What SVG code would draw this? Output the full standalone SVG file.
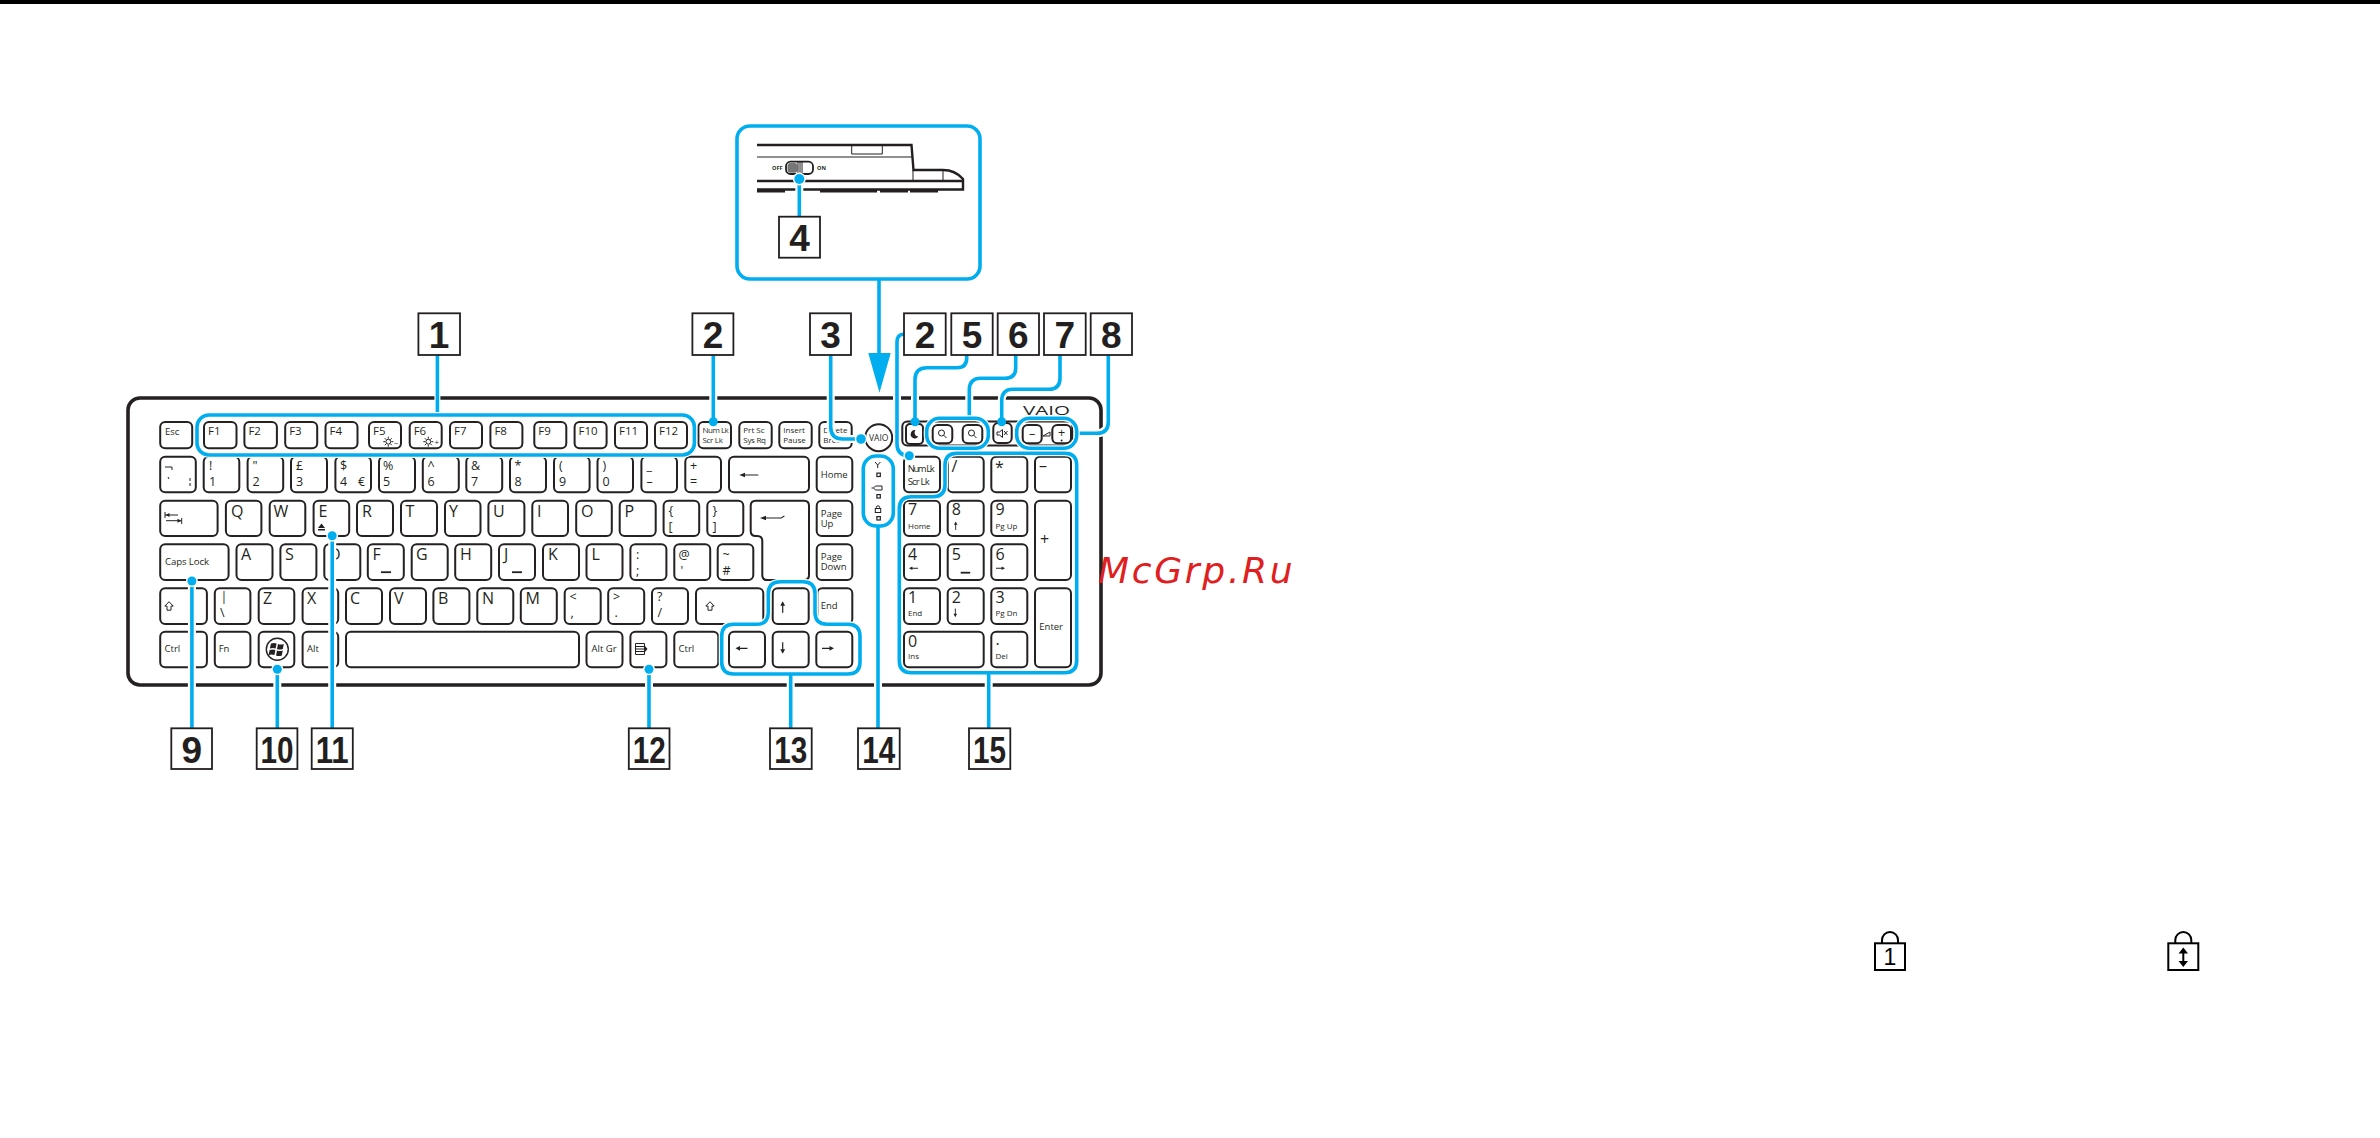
<svg xmlns="http://www.w3.org/2000/svg" xmlns:xlink="http://www.w3.org/1999/xlink" width="2380" height="1138" viewBox="0 0 2380 1138">
<style>
text{font-family:"Liberation Sans",Arial,sans-serif;fill:#231f20}
#keyboard{opacity:.99}
#keyboard text,#inset text{font-family:"Open Sans","Liberation Sans",sans-serif}
.k{fill:#fff;stroke:#231f20;stroke-width:2}
.o{fill:none;stroke:#231f20;stroke-width:1.9}
.thin{fill:none;stroke:#231f20;stroke-width:1}
.thick{fill:none;stroke:#231f20;stroke-width:2.4}
.ink{fill:#231f20}
.l{font-size:16px}
.s{font-size:12.5px}
.f{font-size:11.5px}
.t{font-size:9.5px}
.u{font-size:8px}
.h{fill:none;stroke:#fff;stroke-width:8}
.hg{fill:none;stroke:#fff;stroke-width:6}
.c{fill:none;stroke:#00aeef;stroke-width:3.6}
.d{fill:#00aeef}
.hd{fill:#fff}
.b{fill:#fff;stroke:#231f20;stroke-width:1.8}
.n{font-size:37px;font-weight:700;text-anchor:middle}
</style>
<defs>
<g id="shift"><path d="M0,0 L4.2,4.4 H2 V8.5 H-2 V4.4 H-4.2 Z" class="thin"/></g>
<g id="sun"><circle r="2.4" class="thin"/><path d="M-5,0H-3M3,0H5M0,-5V-3M0,3V5M-3.5,-3.5L-2,-2M3.5,-3.5L2,-2M-3.5,3.5L-2,2M3.5,3.5L2,2" class="thin"/></g>
<g id="up"><path d="M0,-5.5 L2.4,-1 H0.6 V6 H-0.6 V-1 H-2.4 Z" class="ink"/></g>
<g id="right"><path d="M6,0 L1.5,-2.4 V-0.6 H-6 V0.6 H1.5 V2.4 Z" class="ink"/></g>
<g id="glass"><circle cx="-1" cy="-1" r="3" class="thin"/><path d="M1.2,1.2L4,4" class="thin"/></g>
</defs>
<rect width="2380" height="1138" fill="#fff"/>
<rect width="2380" height="4" fill="#000"/>

<g id="keyboard">
<rect x="128" y="398" width="973" height="287" rx="12" fill="#fff" stroke="#231f20" stroke-width="3.6"/>
<text x="1023" y="415" font-size="13" textLength="47" lengthAdjust="spacingAndGlyphs">VAIO</text>
<g id="row-f">
<rect class="k" x="160.200" y="422" width="32" height="26.300" rx="5"/><text class="t" x="165" y="435">Esc</text>
<rect class="k" x="204" y="422" width="32.500" height="26.300" rx="5"/><text class="f" x="208" y="434.500">F1</text>
<rect class="k" x="244.400" y="422" width="32.500" height="26.300" rx="5"/><text class="f" x="248.400" y="434.500">F2</text>
<rect class="k" x="285.200" y="422" width="32" height="26.300" rx="5"/><text class="f" x="289.200" y="434.500">F3</text>
<rect class="k" x="325.500" y="422" width="32" height="26.300" rx="5"/><text class="f" x="329.500" y="434.500">F4</text>
<rect class="k" x="369" y="422" width="32" height="26.300" rx="5"/><text class="f" x="373" y="434.500">F5</text><use xlink:href="#sun" href="#sun" x="388.300" y="441.700"/><text class="u" x="394" y="444.500">–</text>
<rect class="k" x="409.700" y="422" width="32" height="26.300" rx="5"/><text class="f" x="413.700" y="434.500">F6</text><use xlink:href="#sun" href="#sun" x="428.300" y="441.700"/><text class="u" x="434.500" y="444.500">+</text>
<rect class="k" x="450" y="422" width="32" height="26.300" rx="5"/><text class="f" x="454" y="434.500">F7</text>
<rect class="k" x="490.400" y="422" width="32" height="26.300" rx="5"/><text class="f" x="494.400" y="434.500">F8</text>
<rect class="k" x="534.300" y="422" width="32" height="26.300" rx="5"/><text class="f" x="538.300" y="434.500">F9</text>
<rect class="k" x="574.600" y="422" width="32" height="26.300" rx="5"/><text class="f" x="578.600" y="434.500">F10</text>
<rect class="k" x="615" y="422" width="32" height="26.300" rx="5"/><text class="f" x="619" y="434.500">F11</text>
<rect class="k" x="655" y="422" width="32" height="26.300" rx="5"/><text class="f" x="659" y="434.500">F12</text>
<rect class="k" x="698.400" y="422" width="32.600" height="26.300" rx="5"/><text class="u" x="702.500" y="433" letter-spacing="-.5">Num Lk</text><text class="u" x="702.500" y="443.300" letter-spacing="-.3">Scr Lk</text>
<rect class="k" x="739.300" y="422" width="32.400" height="26.300" rx="5"/><text class="u" x="743.300" y="433.300">Prt Sc</text><text class="u" x="743.300" y="443.300" letter-spacing="-.3">Sys Rq</text>
<rect class="k" x="779.300" y="422" width="32.400" height="26.300" rx="5"/><text class="u" x="783.300" y="433.300">Insert</text><text class="u" x="783.300" y="443.300">Pause</text>
<rect class="k" x="819.300" y="422" width="32.400" height="26.300" rx="5"/><text class="u" x="823.300" y="433.300">Delete</text><text class="u" x="823.300" y="443.300">Break</text>
<circle class="k" cx="878.700" cy="437.700" r="13.500"/><text x="878.700" y="441" font-size="8.500" text-anchor="middle">VAIO</text>
</g>
<g id="row-media">
<rect class="k" x="902.300" y="421.500" width="170" height="24" rx="5"/>
<rect class="k" x="906" y="424" width="17" height="20" rx="4"/>
<path class="ink" d="M915.500,430 a4.200,4.200 0 1 0 2.800,6.600 a4,4 0 0 1 -2.800,-6.600Z"/>
<rect class="k" x="932.700" y="425" width="19.600" height="18.300" rx="5"/><use xlink:href="#glass" href="#glass" x="942.500" y="434"/>
<rect class="k" x="962.700" y="425" width="19.600" height="18.300" rx="5"/><use xlink:href="#glass" href="#glass" x="972.500" y="434"/>
<rect class="k" x="993.300" y="423" width="18.400" height="20" rx="5"/><path class="thin" d="M997,432h2.500l3,-2.500v8l-3,-2.500h-2.500zM1004,431l3.500,4M1007.500,431l-3.500,4"/>
<rect class="k" x="1022.700" y="425" width="19" height="18.300" rx="5"/><text class="s" x="1032.200" y="438" text-anchor="middle">–</text>
<path class="thin" d="M1043,436 L1050,432 V436 Z"/>
<rect class="k" x="1052.300" y="425" width="18.700" height="18.300" rx="5"/><text class="s" x="1061.600" y="437" text-anchor="middle">+</text><circle class="ink" cx="1061.600" cy="440.500" r="1"/>
</g>
<g id="row-1">
<rect class="k" x="160.200" y="456.700" width="35.600" height="35.600" rx="5"/><path class="thin" d="M165,467h7v3M168,477l1,2M190,478v3M190,483v3"/>
<rect class="k" x="203.700" y="456.700" width="35.600" height="35.600" rx="5"/><text class="s" x="209" y="470">!</text><text class="s" x="209" y="485.700">1</text>
<rect class="k" x="247.600" y="456.700" width="35.600" height="35.600" rx="5"/><text class="s" x="252.600" y="470">"</text><text class="s" x="252.600" y="485.700">2</text>
<rect class="k" x="291" y="456.700" width="36" height="35.600" rx="5"/><text class="s" x="296" y="470">£</text><text class="s" x="296" y="485.700">3</text>
<rect class="k" x="335.400" y="456.700" width="35.600" height="35.600" rx="5"/><text class="s" x="340" y="470">$</text><text class="s" x="340" y="485.700">4</text><text class="s" x="358" y="485.700">€</text>
<rect class="k" x="379" y="456.700" width="36" height="35.600" rx="5"/><text class="s" x="383" y="470">%</text><text class="s" x="383" y="485.700">5</text>
<rect class="k" x="422.800" y="456.700" width="36" height="35.600" rx="5"/><text class="s" x="427.500" y="470">^</text><text class="s" x="427.500" y="485.700">6</text>
<rect class="k" x="466.300" y="456.700" width="35.900" height="35.600" rx="5"/><text class="s" x="471" y="470">&amp;</text><text class="s" x="471" y="485.700">7</text>
<rect class="k" x="510" y="456.700" width="36" height="35.600" rx="5"/><text class="s" x="514.500" y="470">*</text><text class="s" x="514.500" y="485.700">8</text>
<rect class="k" x="554" y="456.700" width="35.600" height="35.600" rx="5"/><text class="s" x="559" y="470">(</text><text class="s" x="559" y="485.700">9</text>
<rect class="k" x="597.500" y="456.700" width="35.500" height="35.600" rx="5"/><text class="s" x="602.500" y="470">)</text><text class="s" x="602.500" y="485.700">0</text>
<rect class="k" x="641.400" y="456.700" width="35.600" height="35.600" rx="5"/><text class="s" x="646.500" y="470">_</text><text class="s" x="646.500" y="485.700">–</text>
<rect class="k" x="685.300" y="456.700" width="35.700" height="35.600" rx="5"/><text class="s" x="690" y="470">+</text><text class="s" x="690" y="485.700">=</text>
<rect class="k" x="729" y="456.700" width="80" height="35.600" rx="5"/><path class="ink" d="M739.300,475 L745,472.800 V474.500 H758.300 V475.500 H745 V477.200 Z"/>
<rect class="k" x="816.700" y="456.700" width="35.600" height="35.600" rx="5"/><text class="t" x="820.700" y="478">Home</text>
</g>
<g id="row-2">
<rect class="k" x="160.200" y="500.700" width="57.400" height="35.300" rx="5"/><path class="thin" d="M165,512v6M165,515h13M181.700,518v6M166,520.700h15"/><path class="ink" d="M165.500,515l4,-2v4zM181.500,520.700l-4,-2v4z"/>
<rect class="k" x="225.900" y="500.700" width="35.500" height="35.300" rx="5"/><text class="l" x="231" y="516.700">Q</text>
<rect class="k" x="269.700" y="500.700" width="35.600" height="35.300" rx="5"/><text class="l" x="273.500" y="516.700">W</text>
<rect class="k" x="313.600" y="500.700" width="35.600" height="35.300" rx="5"/><text class="l" x="318.500" y="516.700">E</text><path class="ink" d="M318,528l3.500,-4.500l3.500,4.500zM318,529h7v1.500h-7z"/>
<rect class="k" x="357" y="500.700" width="36" height="35.300" rx="5"/><text class="l" x="362" y="516.700">R</text>
<rect class="k" x="401" y="500.700" width="36" height="35.300" rx="5"/><text class="l" x="405.500" y="516.700">T</text>
<rect class="k" x="445" y="500.700" width="35.500" height="35.300" rx="5"/><text class="l" x="449" y="516.700">Y</text>
<rect class="k" x="488.400" y="500.700" width="36" height="35.300" rx="5"/><text class="l" x="493" y="516.700">U</text>
<rect class="k" x="532.300" y="500.700" width="35.700" height="35.300" rx="5"/><text class="l" x="537" y="516.700">I</text>
<rect class="k" x="576.200" y="500.700" width="35.600" height="35.300" rx="5"/><text class="l" x="581" y="516.700">O</text>
<rect class="k" x="619.700" y="500.700" width="36" height="35.300" rx="5"/><text class="l" x="624.500" y="516.700">P</text>
<rect class="k" x="663.600" y="500.700" width="35.600" height="35.300" rx="5"/><text class="s" x="668.500" y="515">{</text><text class="s" x="668.500" y="531">[</text>
<rect class="k" x="707.300" y="500.700" width="36" height="35.300" rx="5"/><text class="s" x="712.500" y="515">}</text><text class="s" x="712.500" y="531">]</text>
<path class="k" d="M755.700,500.700H804q5,0 5,5V575q0,5 -5,5H767.300q-5,0 -5,-5V541q0,-5 -5,-5H755.700q-5,0 -5,-5V505.700q0,-5 5,-5Z"/>
<path class="ink" d="M760,518 L766,515.800 V517.500 H781 L784,515.500 L784.800,516.300 L781.500,518.600 H766 V520.200 Z"/>
<rect class="k" x="816.700" y="500.700" width="35.600" height="35.300" rx="5"/><text class="t" x="820.700" y="516.700">Page</text><text class="t" x="820.700" y="526.700">Up</text>
</g>
<g id="row-3">
<rect class="k" x="160.200" y="544.300" width="68.400" height="35.700" rx="5"/><text x="165" y="565" font-size="9.600" textLength="44">Caps Lock</text>
<rect class="k" x="236.500" y="544.300" width="36" height="35.700" rx="5"/><text class="l" x="241" y="560">A</text>
<rect class="k" x="280.400" y="544.300" width="36" height="35.700" rx="5"/><text class="l" x="285" y="560">S</text>
<rect class="k" x="324.300" y="544.300" width="36" height="35.700" rx="5"/><text class="l" x="329" y="560">D</text>
<rect class="k" x="367.800" y="544.300" width="36" height="35.700" rx="5"/><text class="l" x="372.500" y="560">F</text><rect class="ink" x="381" y="571.300" width="10" height="1.800"/>
<rect class="k" x="411.700" y="544.300" width="36" height="35.700" rx="5"/><text class="l" x="416" y="560">G</text>
<rect class="k" x="455.200" y="544.300" width="36" height="35.700" rx="5"/><text class="l" x="460" y="560">H</text>
<rect class="k" x="499" y="544.300" width="36" height="35.700" rx="5"/><text class="l" x="504" y="560">J</text><rect class="ink" x="512" y="571.300" width="10" height="1.800"/>
<rect class="k" x="543" y="544.300" width="36" height="35.700" rx="5"/><text class="l" x="548" y="560">K</text>
<rect class="k" x="586.500" y="544.300" width="36" height="35.700" rx="5"/><text class="l" x="591.500" y="560">L</text>
<rect class="k" x="630.400" y="544.300" width="36" height="35.700" rx="5"/><text class="s" x="636" y="559">:</text><text class="s" x="636" y="575">;</text>
<rect class="k" x="674.300" y="544.300" width="35.900" height="35.700" rx="5"/><text class="s" x="678.500" y="559">@</text><text class="s" x="680.500" y="575">'</text>
<rect class="k" x="717.700" y="544.300" width="35.600" height="35.700" rx="5"/><text class="s" x="722.500" y="559">~</text><text class="s" x="722.500" y="575">#</text>
<rect class="k" x="816.700" y="544.300" width="35.600" height="35.700" rx="5"/><text class="t" x="820.700" y="560">Page</text><text class="t" x="820.700" y="570">Down</text>
</g>
<g id="row-4">
<rect class="k" x="160.200" y="588.300" width="46.700" height="35.700" rx="5"/><use xlink:href="#shift" href="#shift" x="169" y="601.700"/>
<rect class="k" x="214.800" y="588.300" width="35.600" height="35.700" rx="5"/><text class="s" x="220.500" y="601">|</text><text class="s" x="220" y="617">\</text>
<rect class="k" x="258.700" y="588.300" width="35.600" height="35.700" rx="5"/><text class="l" x="263" y="604">Z</text>
<rect class="k" x="302.600" y="588.300" width="35.600" height="35.700" rx="5"/><text class="l" x="307" y="604">X</text>
<rect class="k" x="346" y="588.300" width="36" height="35.700" rx="5"/><text class="l" x="350" y="604">C</text>
<rect class="k" x="390" y="588.300" width="36" height="35.700" rx="5"/><text class="l" x="394" y="604">V</text>
<rect class="k" x="433.400" y="588.300" width="36" height="35.700" rx="5"/><text class="l" x="438" y="604">B</text>
<rect class="k" x="477.300" y="588.300" width="36" height="35.700" rx="5"/><text class="l" x="482" y="604">N</text>
<rect class="k" x="520.800" y="588.300" width="36" height="35.700" rx="5"/><text class="l" x="525.500" y="604">M</text>
<rect class="k" x="564.700" y="588.300" width="36" height="35.700" rx="5"/><text class="s" x="569.500" y="601">&lt;</text><text class="s" x="570.500" y="617">,</text>
<rect class="k" x="608.200" y="588.300" width="36" height="35.700" rx="5"/><text class="s" x="613" y="601">&gt;</text><text class="s" x="614.500" y="617">.</text>
<rect class="k" x="652" y="588.300" width="36" height="35.700" rx="5"/><text class="s" x="657" y="601">?</text><text class="s" x="657.500" y="617">/</text>
<rect class="k" x="696" y="588.300" width="67.300" height="35.700" rx="5"/><use xlink:href="#shift" href="#shift" x="710" y="601.700"/>
<rect class="k" x="772.700" y="588.300" width="36" height="35.700" rx="5"/><use xlink:href="#up" href="#up" x="782.700" y="606.700"/>
<rect class="k" x="817.300" y="588.300" width="35" height="35.700" rx="5"/><text class="t" x="820.700" y="609">End</text>
</g>
<g id="row-5">
<rect class="k" x="160.200" y="631.700" width="46.700" height="35.600" rx="5"/><text class="t" x="164.600" y="652.300">Ctrl</text>
<rect class="k" x="214.800" y="631.700" width="35.600" height="35.600" rx="5"/><text class="t" x="218.700" y="652.300">Fn</text>
<rect class="k" x="258.700" y="631.700" width="35.600" height="35.600" rx="5"/><circle cx="277.300" cy="649.300" r="11" fill="#fff" stroke="#231f20" stroke-width="1.400"/><path class="ink" d="M271,643.500q3,-1 5.600,0l-1,5q-3,-1 -5.800,0zM278,644q3,1 5.800,0l-1,5q-3,1 -5.800,0zM269.600,650q3,-1 5.800,0l-1,5q-3,-1 -5.800,0zM277,650.500q3,1 5.800,0l-1,5q-3,1 -5.800,0z"/>
<rect class="k" x="302.600" y="631.700" width="35.600" height="35.600" rx="5"/><text class="t" x="307" y="652.300">Alt</text>
<rect class="k" x="346" y="631.700" width="233" height="35.600" rx="5"/>
<rect class="k" x="586.500" y="631.700" width="36" height="35.600" rx="5"/><text class="t" x="591.600" y="652.300" textLength="25">Alt Gr</text>
<rect class="k" x="630.400" y="631.700" width="36" height="35.600" rx="5"/><path class="thin" d="M635.500,643.500h9v11h-9zM635.500,646.500h9M635.500,649h9M635.500,651.500h9"/><path class="ink" d="M645,646l2.500,3l-2.500,3z"/>
<rect class="k" x="674.300" y="631.700" width="44" height="35.600" rx="5"/><text class="t" x="678.600" y="652.300">Ctrl</text>
<rect class="k" x="729" y="631.700" width="36" height="35.600" rx="5"/><use xlink:href="#right" href="#right" transform="translate(741.500 648.300) rotate(180)"/>
<rect class="k" x="772.700" y="631.700" width="36" height="35.600" rx="5"/><use xlink:href="#up" href="#up" transform="translate(782.700 648.300) rotate(180)"/>
<rect class="k" x="816.300" y="631.700" width="36" height="35.600" rx="5"/><use xlink:href="#right" href="#right" x="828" y="648.300"/>
</g>
<g id="numpad">
<rect class="k" x="904" y="456.700" width="36" height="35.600" rx="5"/><text class="t" x="907.700" y="471.700" textLength="27">Num Lk</text><text class="t" x="907.700" y="485" textLength="22">Scr Lk</text>
<rect class="k" x="947.700" y="456.700" width="36" height="35.600" rx="5"/><text class="l" x="951.500" y="472">/</text>
<rect class="k" x="991.300" y="456.700" width="36" height="35.600" rx="5"/><text class="l" x="995" y="473">*</text>
<rect class="k" x="1035" y="456.700" width="36" height="35.600" rx="5"/><text class="l" x="1039" y="471">–</text>
<rect class="k" x="904" y="500.700" width="36" height="35.300" rx="5"/><text class="l" x="908" y="515">7</text><text class="u" x="908" y="529">Home</text>
<rect class="k" x="947.700" y="500.700" width="36" height="35.300" rx="5"/><text class="l" x="951.700" y="515">8</text><use xlink:href="#up" href="#up" transform="translate(955.700 525.500) scale(.75)"/>
<rect class="k" x="991.300" y="500.700" width="36" height="35.300" rx="5"/><text class="l" x="995.500" y="515">9</text><text class="u" x="995.500" y="529">Pg Up</text>
<rect class="k" x="1035" y="500.700" width="36" height="79.300" rx="5"/><text class="l" x="1040" y="545">+</text>
<rect class="k" x="904" y="544.300" width="36" height="35.700" rx="5"/><text class="l" x="908" y="560">4</text><use xlink:href="#right" href="#right" transform="translate(913.500 568.300) rotate(180) scale(.75)"/>
<rect class="k" x="947.700" y="544.300" width="36" height="35.700" rx="5"/><text class="l" x="951.700" y="560">5</text><rect class="ink" x="960.700" y="571.800" width="9.500" height="1.800"/>
<rect class="k" x="991.300" y="544.300" width="36" height="35.700" rx="5"/><text class="l" x="995.500" y="560">6</text><use xlink:href="#right" href="#right" transform="translate(1000.500 568.300) scale(.75)"/>
<rect class="k" x="904" y="588.300" width="36" height="35.700" rx="5"/><text class="l" x="908" y="603.300">1</text><text class="u" x="908" y="615.700">End</text>
<rect class="k" x="947.700" y="588.300" width="36" height="35.700" rx="5"/><text class="l" x="951.700" y="603.300">2</text><use xlink:href="#up" href="#up" transform="translate(955.300 613) rotate(180) scale(.75)"/>
<rect class="k" x="991.300" y="588.300" width="36" height="35.700" rx="5"/><text class="l" x="995.500" y="603.300">3</text><text class="u" x="995.500" y="615.700">Pg Dn</text>
<rect class="k" x="1035" y="588.300" width="36" height="79" rx="5"/><text class="t" x="1039.300" y="630">Enter</text>
<rect class="k" x="904" y="631.700" width="79.700" height="35.600" rx="5"/><text class="l" x="908" y="646.700">0</text><text class="u" x="908" y="659.300">Ins</text>
<rect class="k" x="991.300" y="631.700" width="36" height="35.600" rx="5"/><text class="l" x="995.500" y="645">.</text><text class="u" x="995.500" y="659.300">Del</text>
</g>
<g id="leds">
<path class="thin" d="M875,462l2.700,3l2.700,-3M877.700,465v3"/><rect class="ink" x="876.300" y="472.500" width="4.600" height="4.600"/><rect fill="#fff" x="877.500" y="473.700" width="2.200" height="2.200"/>
<path class="thin" d="M873.500,488l2,-2h6.500v4h-6.500zM871.500,488h2"/><rect class="ink" x="876.300" y="494" width="4.600" height="4.600"/><rect fill="#fff" x="877.500" y="495.200" width="2.200" height="2.200"/>
<rect class="thin" x="875.300" y="508.500" width="5.400" height="4"/><path class="thin" d="M876.300,508.500v-1a1.700,1.700 0 0 1 3.400,0v1"/><rect class="ink" x="876.300" y="516" width="4.600" height="4.600"/><rect fill="#fff" x="877.500" y="517.200" width="2.200" height="2.200"/>
</g>
</g>

<g id="inset">
<rect class="c" x="737" y="126" width="243" height="153" rx="13" fill="#fff"/>
<path class="thick" d="M757,145H911.500L913.500,170H943Q955,170 963,179V189.500H757"/>
<path class="thin" d="M757,157H912M913,181V170M943,170V181M851.700,145V154H882.300V145"/>
<path d="M757,181H963" fill="none" stroke="#231f20" stroke-width="2.400"/>
<path d="M757,191H785M820,191H877M880,191H908M910,191H938" fill="none" stroke="#231f20" stroke-width="3"/>
<rect x="786" y="161.700" width="27" height="12.300" rx="4.500" fill="#fff" stroke="#231f20" stroke-width="1.800"/>
<rect x="787.500" y="163" width="10" height="9.800" rx="3" fill="#777"/>
<path class="thin" d="M798,162v12M800,162v12M802,162v12"/>
<text x="772" y="170.300" font-size="5.500" font-weight="700">OFF</text>
<text x="817" y="170.300" font-size="5.500" font-weight="700">ON</text>
</g>

<g id="connectors">
<path class="hg" d="M437.400,355V415"/><path class="c" d="M437.400,355V415"/>
<rect class="hg" x="197" y="415" width="497.400" height="40" rx="12"/><rect class="c" x="197" y="415" width="497.400" height="40" rx="12"/>
<path class="h" d="M713.300,355V421.700"/><path class="c" d="M713.300,355V421.700"/><circle class="d" cx="713.300" cy="421.700" r="4.500"/>
<path class="h" d="M830.700,355V427Q830.700,439 842.700,439H861"/><path class="c" d="M830.700,355V427Q830.700,439 842.700,439H861"/><circle class="hd" cx="861" cy="439" r="6.200"/><circle class="d" cx="861" cy="439" r="4.800"/>
<path class="c" d="M879,280V356"/><path class="d" d="M868.300,353H890.700L879.500,392.700Z"/>
<path class="h" d="M904,334.300Q897,334.300 897,342V443.700Q897,455.700 909,455.700"/><path class="c" d="M904,334.300Q897,334.300 897,342V443.700Q897,455.700 909,455.700"/><circle class="hd" cx="909.300" cy="455.700" r="6"/><circle class="d" cx="909.300" cy="455.700" r="4.500"/>
<path class="h" d="M966.700,355V358Q966.700,367.700 957,367.700H927Q915,367.700 915,379.700V421.700"/><path class="c" d="M966.700,355V358Q966.700,367.700 957,367.700H927Q915,367.700 915,379.700V421.700"/><circle class="d" cx="915" cy="421.700" r="4.500"/>
<path class="h" d="M1015.700,355V368Q1015.700,378.300 1005,378.300H981Q969.300,378.300 969.300,390V418"/><path class="c" d="M1015.700,355V368Q1015.700,378.300 1005,378.300H981Q969.300,378.300 969.300,390V418"/>
<path class="h" d="M1060,355V378Q1060,389.300 1049,389.300H1013Q1001.700,389.300 1001.700,401V421.700"/><path class="c" d="M1060,355V378Q1060,389.300 1049,389.300H1013Q1001.700,389.300 1001.700,401V421.700"/><circle class="d" cx="1001.700" cy="421.700" r="4.500"/>
<path class="h" d="M1108.300,355V422Q1108.300,433.300 1097,433.300H1077"/><path class="c" d="M1108.300,355V422Q1108.300,433.300 1097,433.300H1077"/>
<rect class="hg" x="926.700" y="418.300" width="61.600" height="30" rx="13"/><rect class="c" x="926.700" y="418.300" width="61.600" height="30" rx="13"/>
<rect class="hg" x="1016.700" y="418.300" width="60" height="30" rx="13"/><rect class="c" x="1016.700" y="418.300" width="60" height="30" rx="13"/>
<rect class="hg" x="863.300" y="456" width="30" height="70" rx="13"/><rect class="c" x="863.300" y="456" width="30" height="70" rx="13"/>
<path class="hg" d="M957,453.300H1064.700Q1076.700,453.300 1076.700,465.300V660.700Q1076.700,672.700 1064.700,672.700H911.300Q899.300,672.700 899.300,660.700V508.700Q899.300,496.700 911.300,496.700H933Q945,496.700 945,484.700V465.300Q945,453.300 957,453.300Z"/>
<path class="c" d="M957,453.300H1064.700Q1076.700,453.300 1076.700,465.300V660.700Q1076.700,672.700 1064.700,672.700H911.300Q899.300,672.700 899.300,660.700V508.700Q899.300,496.700 911.300,496.700H933Q945,496.700 945,484.700V465.300Q945,453.300 957,453.300Z"/>
<path class="hg" d="M780.300,581.700H803Q815,581.700 815,593.700V612.300Q815,624.300 827,624.300H848Q860,624.300 860,636.300V662Q860,674 848,674H733.700Q721.700,674 721.700,662V636.300Q721.700,624.300 733.700,624.300H756.300Q768.300,624.300 768.300,612.300V593.700Q768.300,581.700 780.300,581.700Z"/>
<path class="c" d="M780.300,581.700H803Q815,581.700 815,593.700V612.300Q815,624.300 827,624.300H848Q860,624.300 860,636.300V662Q860,674 848,674H733.700Q721.700,674 721.700,662V636.300Q721.700,624.300 733.700,624.300H756.300Q768.300,624.300 768.300,612.300V593.700Q768.300,581.700 780.300,581.700Z"/>
<path class="h" d="M799.300,179V217"/><path class="c" d="M799.300,179V217"/><circle class="hd" cx="799.300" cy="179" r="6.500"/><circle class="d" cx="799.300" cy="179" r="5"/>
<path class="h" d="M191.900,581V728"/><path class="c" d="M191.900,581V728"/><circle class="hd" cx="191.900" cy="581" r="6"/><circle class="d" cx="191.900" cy="581" r="4.500"/>
<path class="h" d="M277.300,669.300V728"/><path class="c" d="M277.300,669.300V728"/><circle class="hd" cx="277.300" cy="669.300" r="6"/><circle class="d" cx="277.300" cy="669.300" r="4.500"/>
<path class="h" d="M332.200,535.700V728"/><path class="c" d="M332.200,535.700V728"/><circle class="hd" cx="332.200" cy="535.700" r="6"/><circle class="d" cx="332.200" cy="535.700" r="4.500"/>
<path class="h" d="M649,669.300V728"/><path class="c" d="M649,669.300V728"/><circle class="hd" cx="649" cy="669.300" r="6"/><circle class="d" cx="649" cy="669.300" r="4.500"/>
<path class="h" d="M790.700,676V728"/><path class="c" d="M790.700,674V728"/>
<path class="h" d="M878,528V728"/><path class="c" d="M878,526V728"/>
<path class="h" d="M988.700,675V728"/><path class="c" d="M988.700,673V728"/>
</g>

<g id="n1"><rect class="b" x="418.400" y="313.300" width="41.600" height="41.700"/><text class="n" x="439" y="347.500">1</text></g>
<g id="n2a"><rect class="b" x="692.400" y="313.300" width="41" height="41.700"/><text class="n" x="713" y="347.500">2</text></g>
<g id="n3"><rect class="b" x="810" y="313.300" width="41" height="41.700"/><text class="n" x="830.500" y="347.500">3</text></g>
<g id="n2b"><rect class="b" x="904" y="313.300" width="41.700" height="41.700"/><text class="n" x="925" y="347.500">2</text></g>
<g id="n5"><rect class="b" x="951.300" y="313.300" width="41.400" height="41.700"/><text class="n" x="972" y="347.500">5</text></g>
<g id="n6"><rect class="b" x="997.700" y="313.300" width="41.300" height="41.700"/><text class="n" x="1018.300" y="347.500">6</text></g>
<g id="n7"><rect class="b" x="1044" y="313.300" width="41.700" height="41.700"/><text class="n" x="1064.800" y="347.500">7</text></g>
<g id="n8"><rect class="b" x="1090.700" y="313.300" width="41.300" height="41.700"/><text class="n" x="1111.300" y="347.500">8</text></g>
<g id="n4"><rect class="b" x="779" y="216.700" width="41" height="41"/><text class="n" x="799.500" y="250.500">4</text></g>
<g id="n9"><rect class="b" x="171.300" y="728.300" width="40.700" height="40.700"/><text class="n" x="191.700" y="762.500">9</text></g>
<g id="n10"><rect class="b" x="256.700" y="728.300" width="40.700" height="40.700"/><text class="n" x="277" y="762.500" textLength="33" lengthAdjust="spacingAndGlyphs">10</text></g>
<g id="n11"><rect class="b" x="311.700" y="728.300" width="41.100" height="40.700"/><text class="n" x="332.200" y="762.500" textLength="33" lengthAdjust="spacingAndGlyphs">11</text></g>
<g id="n12"><rect class="b" x="628.800" y="728.300" width="40.700" height="40.700"/><text class="n" x="649.200" y="762.500" textLength="33" lengthAdjust="spacingAndGlyphs">12</text></g>
<g id="n13"><rect class="b" x="770" y="728.300" width="41.700" height="40.700"/><text class="n" x="790.800" y="762.500" textLength="33" lengthAdjust="spacingAndGlyphs">13</text></g>
<g id="n14"><rect class="b" x="858" y="728.300" width="41.700" height="40.700"/><text class="n" x="878.800" y="762.500" textLength="33" lengthAdjust="spacingAndGlyphs">14</text></g>
<g id="n15"><rect class="b" x="969" y="728.300" width="41.300" height="40.700"/><text class="n" x="989.600" y="762.500" textLength="33" lengthAdjust="spacingAndGlyphs">15</text></g>

<g id="lock-num">
<rect x="1875" y="943.300" width="30" height="26.700" fill="#fff" stroke="#000" stroke-width="2"/>
<path d="M1882,943V940a8,8 0 0 1 16,0V943" fill="none" stroke="#000" stroke-width="2"/>
<text x="1890" y="965" font-size="23" text-anchor="middle" style="fill:#000">1</text>
</g>
<g id="lock-scroll">
<rect x="2168.300" y="943.300" width="30" height="26.700" fill="#fff" stroke="#000" stroke-width="2"/>
<path d="M2175.300,943V940a8,8 0 0 1 16,0V943" fill="none" stroke="#000" stroke-width="2"/>
<path d="M2183.300,950V965" fill="none" stroke="#000" stroke-width="2"/>
<path d="M2183.300,947.500L2188,953.500H2178.600ZM2183.300,967L2188,961H2178.600Z" fill="#000"/>
</g>
<text id="watermark" x="1098" y="583" font-size="36" font-style="italic" letter-spacing="2.700" style="font-family:'DejaVu Sans',sans-serif;fill:#e02020">McGrp.Ru</text>
</svg>
